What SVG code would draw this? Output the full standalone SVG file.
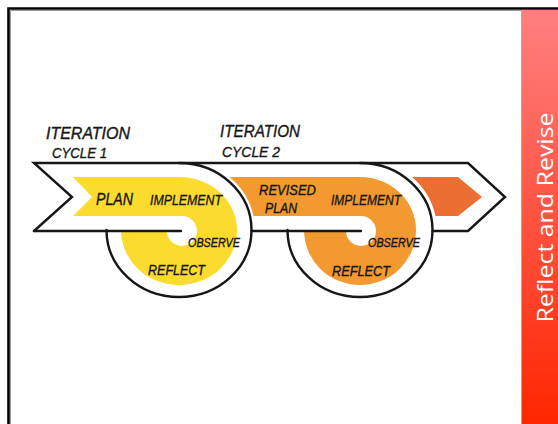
<svg xmlns="http://www.w3.org/2000/svg" width="558" height="424" viewBox="0 0 558 424">
  <defs>
    <linearGradient id="panelGrad" x1="0" y1="0" x2="0" y2="1">
      <stop offset="0" stop-color="#FF8080"/>
      <stop offset="1" stop-color="#FF2600"/>
    </linearGradient>
    <style>
      .ink { fill: none; stroke: #161616; stroke-width: 2.4; stroke-linecap: round; stroke-linejoin: miter; }
      .hand { font-family: "Liberation Sans", "DejaVu Sans", sans-serif; font-style: italic; fill: #161616; stroke: #161616; stroke-width: 0.35; }
      .title { font-family: "Open Sans", "Noto Sans", sans-serif; fill: #ffffff; }
    </style>
  </defs>

  <!-- slide background and frame -->
  <rect x="0" y="0" width="558" height="424" fill="#ffffff"/>
  <path d="M10.5,424 V10.5 H522" fill="none" stroke="#9a9a9a" stroke-width="1"/>
  <path d="M8.5,424 V8.5 H558" fill="none" stroke="#000000" stroke-width="2.6"/>

  <!-- side panel -->
  <g id="side-panel">
    <rect x="522" y="10" width="36" height="414" fill="url(#panelGrad)"/>
    <line x1="521.5" y1="10" x2="521.5" y2="424" stroke="#c9a0a0" stroke-width="1"/>
    <text class="title" font-size="22" text-anchor="middle" textLength="210" lengthAdjust="spacingAndGlyphs" transform="translate(553,217.5) rotate(-90)">Reflect and Revise</text>
  </g>

  <!-- colour fills of the two cycles -->
  <g id="cycle-1-fill">
    <path fill="#FBDC2E" d="M73,177 H179 A58,53 0 0 1 237,230 A58,55 0 0 1 179,285 A58,55 0 0 1 121,230 L121,231 H167 A15,15 0 1 0 182,216 H73 L92,197 Z"/>
  </g>
  <g id="cycle-2-fill">
    <path fill="#F29A30" d="M229.6,177 H360 A56,53 0 0 1 416,230 A56,55 0 0 1 360,285 A56,55 0 0 1 304,230 L304,231 H346 A15,15 0 1 0 361,216 H253.5 A76,71 0 0 0 229.6,177 Z"/>
  </g>
  <g id="next-cycle-fill">
    <path fill="#EB6E32" d="M412,177 H458 L482,197 L458,216 H435.5 A77,72 0 0 0 412,177 Z"/>
  </g>

  <!-- outline of the arrow and the two loops -->
  <g id="connectors">
    <path class="ink" d="M34,231 L72,197 L34,163 H468 L505,197 L468,231 H432.5"/>
    <path class="ink" d="M34,231 H181"/>
    <path class="ink" d="M251.5,231 H361"/>
    <path class="ink" d="M179,163 A72.5,67 0 0 1 251.5,230 A72.5,67 0 0 1 179,297 A72.5,67 0 0 1 106.5,230"/>
    <path class="ink" d="M360,163 A72.5,67 0 0 1 432.5,230 A72.5,67 0 0 1 360,297 A72.5,67 0 0 1 287.5,230"/>
  </g>

  <!-- cycle headings -->
  <g id="label-cycle-1">
    <text class="hand" x="46" y="139" font-size="16" textLength="84" lengthAdjust="spacingAndGlyphs">ITERATION</text>
    <text class="hand" x="52" y="158" font-size="14" textLength="55" lengthAdjust="spacingAndGlyphs">CYCLE 1</text>
  </g>
  <g id="label-cycle-2">
    <text class="hand" x="220" y="137" font-size="16" textLength="80" lengthAdjust="spacingAndGlyphs">ITERATION</text>
    <text class="hand" x="222" y="157" font-size="14" textLength="58" lengthAdjust="spacingAndGlyphs">CYCLE 2</text>
  </g>

  <!-- step labels, cycle 1 -->
  <g id="steps-cycle-1">
    <text class="hand" x="96" y="205" font-size="16" textLength="37" lengthAdjust="spacingAndGlyphs">PLAN</text>
    <text class="hand" x="150" y="205" font-size="15" textLength="72" lengthAdjust="spacingAndGlyphs">IMPLEMENT</text>
    <text class="hand" x="188" y="247" font-size="12" textLength="52" lengthAdjust="spacingAndGlyphs">OBSERVE</text>
    <text class="hand" x="148" y="275" font-size="14" textLength="57" lengthAdjust="spacingAndGlyphs">REFLECT</text>
  </g>

  <!-- step labels, cycle 2 -->
  <g id="steps-cycle-2">
    <text class="hand" x="259" y="195" font-size="14" textLength="57" lengthAdjust="spacingAndGlyphs">REVISED</text>
    <text class="hand" x="265" y="213" font-size="14" textLength="32" lengthAdjust="spacingAndGlyphs">PLAN</text>
    <text class="hand" x="331" y="205" font-size="15" textLength="70" lengthAdjust="spacingAndGlyphs">IMPLEMENT</text>
    <text class="hand" x="368" y="247" font-size="12" textLength="52" lengthAdjust="spacingAndGlyphs">OBSERVE</text>
    <text class="hand" x="332" y="276" font-size="14" textLength="58" lengthAdjust="spacingAndGlyphs">REFLECT</text>
  </g>
</svg>
